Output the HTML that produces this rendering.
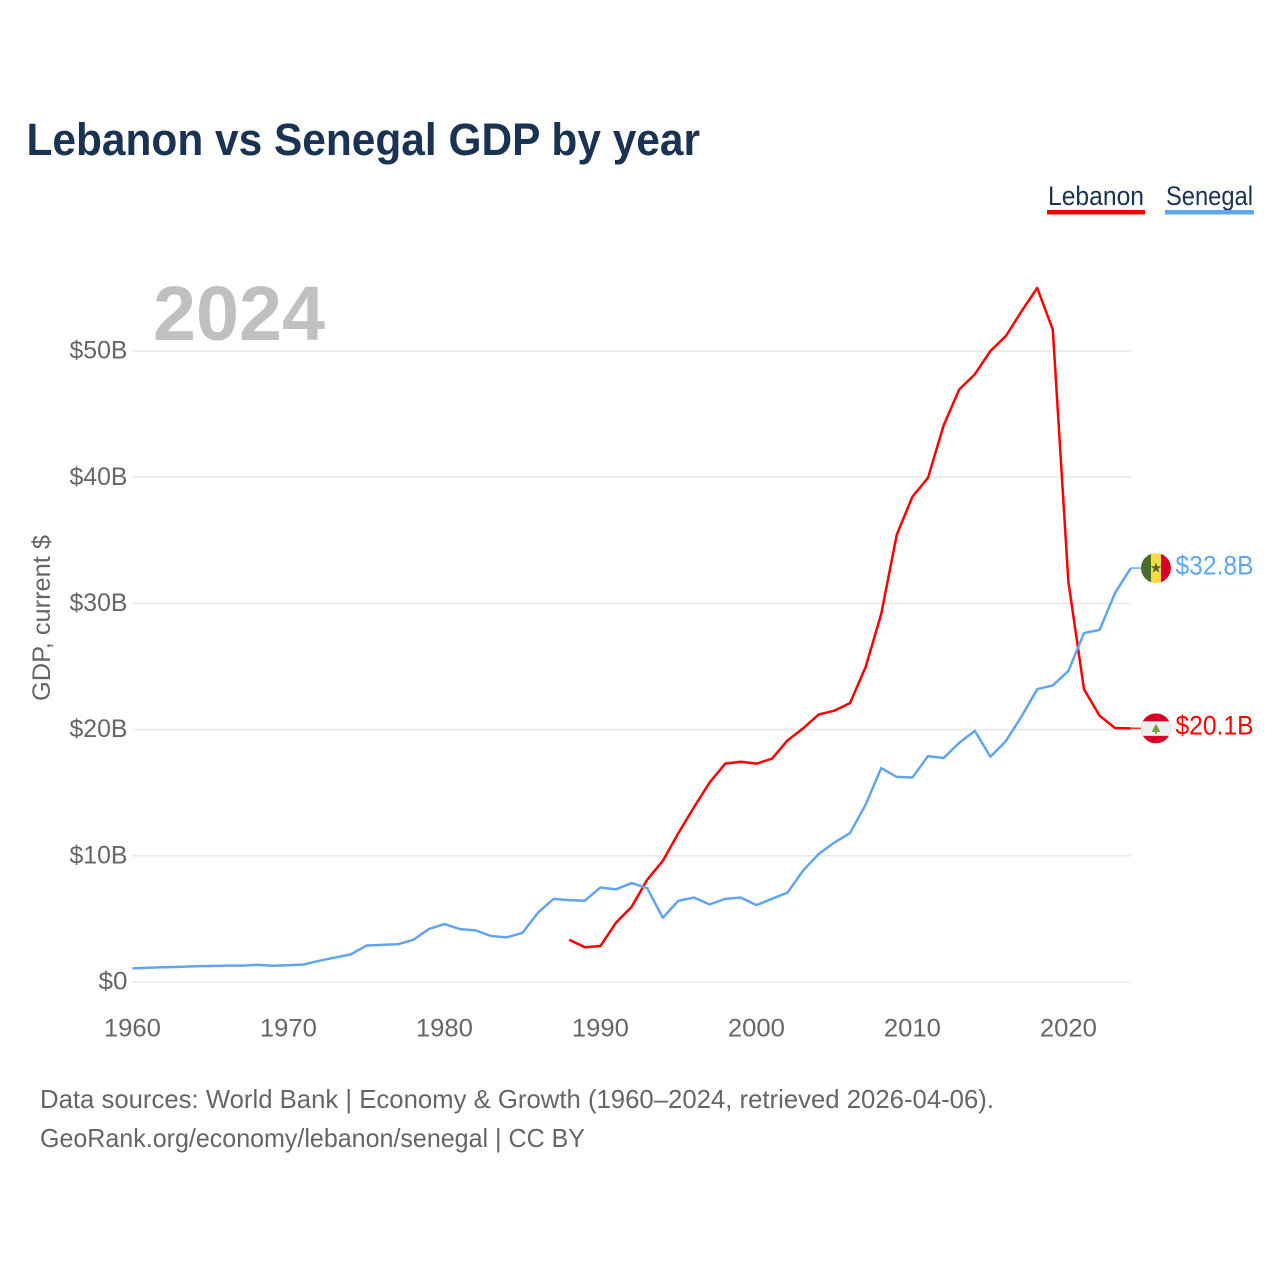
<!DOCTYPE html>
<html lang="en">
<head>
<meta charset="utf-8">
<title>Lebanon vs Senegal GDP by year</title>
<style>
html,body{margin:0;padding:0;background:#fff;}
svg{display:block;font-family:"Liberation Sans",sans-serif;}
</style>
</head>
<body>
<svg id="chart" xmlns="http://www.w3.org/2000/svg" width="1280" height="1280" viewBox="0 0 1280 1280">
  <rect x="0" y="0" width="1280" height="1280" fill="#ffffff"/>
  <text x="26.5" y="155" font-size="45" font-weight="700" fill="#1a3353" textLength="673.5" lengthAdjust="spacingAndGlyphs">Lebanon vs Senegal GDP by year</text>

  <g>
    <g>
      <text x="1048" y="205" font-size="27" fill="#1a3353" textLength="96" lengthAdjust="spacingAndGlyphs">Lebanon</text>
      <rect x="1047" y="210" width="98" height="4.5" fill="#ff0000"/>
    </g>
    <g>
      <text x="1166" y="205" font-size="27" fill="#1a3353" textLength="87" lengthAdjust="spacingAndGlyphs">Senegal</text>
      <rect x="1165" y="210" width="89" height="4.5" fill="#60a5ee"/>
    </g>
  </g>

  <text x="153" y="340" font-size="77" font-weight="700" fill="#c0c0c0" textLength="172" lengthAdjust="spacingAndGlyphs">2024</text>

  <g id="grid"></g>
  <g id="yticks"></g>
  <g id="xticks"></g>
  <text transform="translate(50,701) rotate(-90)" font-size="25" fill="#666666" textLength="166" lengthAdjust="spacingAndGlyphs">GDP, current $</text>

  <g id="series"></g>
  <g id="ends"></g>

  <defs>
    <clipPath id="clip-sn"><circle id="clip-sn-c" cx="0" cy="0" r="15"/></clipPath>
    <clipPath id="clip-lb"><circle id="clip-lb-c" cx="0" cy="0" r="15"/></clipPath>
  </defs>
  <g id="flag-sn" clip-path="url(#clip-sn)">
    <rect x="-15" y="-15" width="10" height="30" fill="#496e2d"/>
    <rect x="-5" y="-15" width="10" height="30" fill="#ffda44"/>
    <rect x="5" y="-15" width="10" height="30" fill="#d80027"/>
    <polygon points="0,-5.5 1.4,-1.8 5.4,-1.8 2.2,0.7 3.4,4.6 0,2.3 -3.4,4.6 -2.2,0.7 -5.4,-1.8 -1.4,-1.8" fill="#496e2d"/>
  </g>
  <g id="flag-lb" clip-path="url(#clip-lb)">
    <rect x="-15" y="-15" width="30" height="30" fill="#d80027"/>
    <rect x="-15" y="-7" width="30" height="14.5" fill="#f0f0f0"/>
    <polygon points="0,-4.5 4.5,3.5 1,3.5 1,5.5 -1,5.5 -1,3.5 -4.5,3.5" fill="#6da544"/>
  </g>

  <g>
    <text x="40" y="1108" font-size="26" fill="#666666" textLength="954" lengthAdjust="spacingAndGlyphs">Data sources: World Bank | Economy &amp; Growth (1960–2024, retrieved 2026-04-06).</text>
    <text x="40" y="1147" font-size="26" fill="#666666" textLength="545" lengthAdjust="spacingAndGlyphs">GeoRank.org/economy/lebanon/senegal | CC BY</text>
  </g>
</svg>
<script>
const yTickValues = [0, 10, 20, 30, 40, 50];
const yTickLabels = ["$0", "$10B", "$20B", "$30B", "$40B", "$50B"];
const xTickValues = [1960, 1970, 1980, 1990, 2000, 2010, 2020];
const xTickLabels = ["1960", "1970", "1980", "1990", "2000", "2010", "2020"];
const senegalStartYear = 1960;
const senegalValues = [1.08,1.13,1.17,1.2,1.25,1.27,1.3,1.3,1.36,1.29,1.33,1.39,1.69,1.94,2.19,2.89,2.94,2.99,3.34,4.19,4.59,4.19,4.09,3.64,3.54,3.89,5.49,6.59,6.49,6.44,7.49,7.34,7.84,7.44,5.09,6.44,6.69,6.14,6.59,6.69,6.09,6.59,7.09,8.84,10.15,11.05,11.8,14.05,16.95,16.25,16.2,17.9,17.75,18.95,19.9,17.85,19.1,21.05,23.2,23.5,24.65,27.65,27.9,30.85,32.8];
const lebanonStartYear = 1988;
const lebanonValues = [3.35,2.75,2.85,4.7,5.95,8.1,9.6,11.8,13.85,15.8,17.3,17.45,17.3,17.7,19.15,20.1,21.2,21.5,22.1,24.95,29.15,35.45,38.45,39.95,44.1,46.95,48.15,50.0,51.2,53.15,55.0,51.7,31.7,23.2,21.1,20.12,20.1];
const senegalEndLabel = "$32.8B";
const lebanonEndLabel = "$20.1B";

const NS = "http://www.w3.org/2000/svg";
function xScale(year) { return 132.4 + (year - 1960) * 15.6; }
function yScale(value) { return 982 - value * 12.62; }
function make(tag, attrs, text) {
  const el = document.createElementNS(NS, tag);
  for (const k in attrs) el.setAttribute(k, attrs[k]);
  if (text !== undefined) el.textContent = text;
  return el;
}
const xEnd = xScale(2024);
const grid = document.getElementById("grid");
const yticks = document.getElementById("yticks");
const xticks = document.getElementById("xticks");

yTickValues.forEach(function (v, i) {
  const line = make("line", {x1: xScale(1960), x2: xEnd, y1: yScale(v), y2: yScale(v), stroke: "#e9e9e9", "stroke-width": 1.6});
  
  
  grid.appendChild(line);
  const label = yTickLabels[i];
  const t = make("text", {x: 127.5, y: yScale(v) + 7.6, "text-anchor": "end", "font-size": 25, fill: "#666666", textLength: label.length * 14.5, lengthAdjust: "spacingAndGlyphs"}, label);
  
  
  yticks.appendChild(t);
});

xTickValues.forEach(function (v, i) {
  const t = make("text", {x: xScale(v), y: 1036.5, "text-anchor": "middle", "font-size": 25, fill: "#666666", textLength: 57, lengthAdjust: "spacingAndGlyphs"}, xTickLabels[i]);
  
  
  xticks.appendChild(t);
});

function pathFor(startYear, values) {
  return values.map(function (v, i) {
    return (i ? "L" : "M") + xScale(startYear + i).toFixed(2) + " " + yScale(v).toFixed(2);
  }).join(" ");
}
const series = document.getElementById("series");
const lbLine = make("path", {d: pathFor(lebanonStartYear, lebanonValues), fill: "none", stroke: "#ff0000", "stroke-width": 2.5, "stroke-linejoin": "round"});


series.appendChild(lbLine);
const snLine = make("path", {d: pathFor(senegalStartYear, senegalValues), fill: "none", stroke: "#60a5ee", "stroke-width": 2.5, "stroke-linejoin": "round"});


series.appendChild(snLine);

const ends = document.getElementById("ends");
const snY = yScale(senegalValues[senegalValues.length - 1]);
const lbY = yScale(lebanonValues[lebanonValues.length - 1]);

const snConn = make("line", {x1: xEnd, x2: 1141, y1: snY, y2: snY, stroke: "#60a5ee", "stroke-width": 1.4});


ends.appendChild(snConn);
const lbConn = make("line", {x1: xEnd, x2: 1141, y1: lbY, y2: lbY, stroke: "#ff3333", "stroke-width": 1.6});


ends.appendChild(lbConn);

const snText = make("text", {x: 1175.5, y: snY + 6.2, "font-size": 27, fill: "#60a5ee", textLength: 78, lengthAdjust: "spacingAndGlyphs"}, senegalEndLabel);


ends.appendChild(snText);
const lbText = make("text", {x: 1175.5, y: lbY + 6.2, "font-size": 27, fill: "#ff0000", textLength: 78, lengthAdjust: "spacingAndGlyphs"}, lebanonEndLabel);


ends.appendChild(lbText);

document.getElementById("flag-sn").setAttribute("transform", "translate(1156," + snY + ")");
document.getElementById("flag-lb").setAttribute("transform", "translate(1156," + lbY + ")");
</script>
</body>
</html>
